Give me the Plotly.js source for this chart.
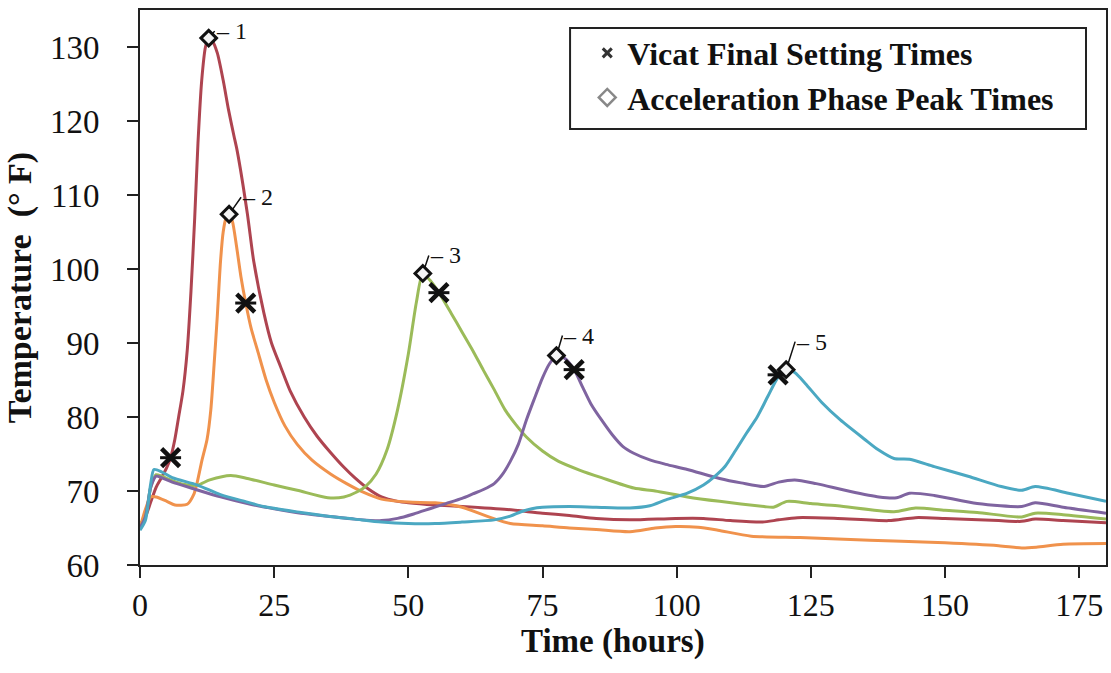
<!DOCTYPE html>
<html>
<head>
<meta charset="utf-8">
<script src="https://cdn.plot.ly/plotly-3.0.1.min.js"></script>
<style>html,body{margin:0;padding:0;background:#fff;}#chart{width:1111px;height:673px;}</style>
</head>
<body>
<div id="chart"></div>
<script>
// ---------- DATA ----------
const time1 = [0, 1, 2, 3, 4, 5, 5.7, 6.5, 7.2, 8, 8.8, 9.5, 10.2, 10.8, 11.5, 12.2, 12.8, 13.5, 14.4, 15.5, 16.5, 17.5, 18.1, 20, 21.2, 23.1, 24.5, 26.2, 28, 30.6, 33, 35.5, 38, 40, 42.5, 45, 48, 50, 55, 60, 68.4, 75, 80, 85, 91.3, 99.8, 105, 110, 116, 119, 122.5, 130, 139.5, 144.5, 150, 160, 164.3, 166.8, 172, 180];
const temp1 = [65.5, 66.5, 68.5, 70.5, 71.8, 73.2, 74.5, 77, 80, 83.5, 89, 97, 107, 117, 125.5, 130, 131.2, 130.8, 129.2, 125.5, 121.5, 118, 116, 107.5, 101, 94, 90, 86.8, 83.5, 80, 77.4, 75.2, 73.2, 71.8, 70.3, 69.2, 68.6, 68.4, 68.1, 67.9, 67.5, 67, 66.7, 66.3, 66.1, 66.3, 66.3, 66, 65.8, 66.1, 66.4, 66.3, 66, 66.4, 66.3, 66, 65.9, 66.2, 66, 65.7];

const time2 = [0, 1, 2, 3, 5, 6.5, 8.8, 10, 10.7, 11.5, 12.5, 13.2, 13.8, 14.4, 15, 15.5, 16, 16.6, 17.2, 18, 18.8, 19.7, 20.7, 21.9, 23.5, 25, 27, 29.3, 32, 35.5, 38.5, 41.7, 45, 50, 55, 60, 65, 69, 75, 80, 85, 91.3, 96, 99.8, 104, 107.7, 113.9, 123, 130, 141.9, 150, 160, 164.3, 167, 172, 180];
const temp2 = [65, 67.5, 69.2, 69.2, 68.6, 68.1, 68.2, 69.5, 71.3, 74, 77, 81, 87, 93.6, 101, 105, 106.8, 107.4, 106.5, 103, 99, 95.4, 92, 89, 85, 82, 78.8, 76.3, 74.2, 72.3, 71, 69.8, 68.9, 68.5, 68.4, 67.8, 66.5, 65.6, 65.3, 65, 64.8, 64.5, 65, 65.2, 65.1, 64.7, 63.9, 63.7, 63.5, 63.2, 63, 62.6, 62.3, 62.4, 62.8, 62.9];

const time3 = [0, 1, 2, 3, 4, 6, 8, 10.7, 13, 16.9, 20, 25, 29.3, 35, 38, 40.5, 42, 44, 46, 48, 50, 51.5, 52.7, 54, 55.7, 58, 60, 62, 64, 66, 68, 70, 72, 75, 78, 82, 86, 92, 96, 102, 108, 116.3, 118, 120.6, 125, 130, 140.5, 144.5, 150, 156, 164.3, 166.8, 172, 180];
const temp3 = [65, 66.5, 70.5, 72.2, 72, 71.4, 70.9, 70.8, 71.5, 72.1, 71.7, 70.8, 70.1, 69.1, 69.2, 69.9, 70.6, 72.3, 75.5, 81, 88.5, 95.5, 99.4, 98.5, 96.8, 94, 91.5, 89, 86.3, 83.7, 81, 79, 77.3, 75.4, 74, 72.8, 71.8, 70.4, 70, 69.2, 68.6, 67.9, 67.8, 68.6, 68.3, 68, 67.2, 67.7, 67.4, 67.1, 66.5, 67, 66.8, 66.2];

const time4 = [0, 1, 2, 3, 4, 6, 10, 15, 20, 25, 30, 35, 40, 45, 48, 51, 54, 57, 60, 62, 64, 66, 67.5, 69, 70.5, 72, 73.5, 75, 76.3, 77.6, 79, 80.9, 82.5, 84, 86, 88, 90, 92, 95, 98, 102, 108, 112, 116.3, 119, 122, 126, 132, 137.7, 141, 143.4, 148, 156, 164.3, 166.8, 172, 180];
const temp4 = [65, 66.5, 70.5, 72, 71.8, 71.2, 70.3, 69.2, 68.3, 67.6, 67, 66.6, 66.2, 66, 66.3, 66.9, 67.6, 68.3, 69, 69.6, 70.2, 71, 72.2, 74, 76.3, 79.6, 82.5, 85.3, 87.2, 88.3, 88, 86.4, 84, 81.8, 79.6, 77.6, 76, 75.1, 74.2, 73.6, 72.9, 71.7, 71.1, 70.6, 71.2, 71.5, 71, 70, 69.2, 69.1, 69.7, 69.4, 68.3, 67.9, 68.4, 67.8, 67];

const time5 = [0, 1, 2, 2.6, 4, 6, 10.7, 15, 20, 23, 30, 35, 40, 45, 50, 55, 60, 66, 69, 71, 73, 75, 80, 85, 91.3, 95, 98, 102, 105, 107, 109, 111, 113, 115, 117, 119, 120.4, 122, 124, 127, 130.5, 135, 137.5, 140.5, 143.4, 148, 154.3, 160.5, 164.3, 166.8, 173, 180];
const temp5 = [64.7, 66, 71, 72.9, 72.6, 71.8, 70.8, 69.5, 68.5, 67.9, 67.1, 66.6, 66.2, 65.8, 65.6, 65.6, 65.8, 66.1, 66.6, 67.2, 67.6, 67.8, 67.9, 67.8, 67.7, 68, 68.8, 69.7, 70.8, 71.9, 73.3, 75.5, 77.8, 80, 82.8, 85.5, 86.4, 86, 84.5, 82, 79.6, 77, 75.6, 74.4, 74.3, 73.3, 72, 70.6, 70.1, 70.6, 69.7, 68.6];

const peakTime  = [12.8, 16.6, 52.7, 77.6, 120.4];
const peakTemp  = [131.2, 107.4, 99.4, 88.3, 86.4];
const peakLabel = ['1', '2', '3', '4', '5'];

const vicatTime = [5.7, 19.7, 55.7, 80.9, 118.9];
const vicatTemp = [74.5, 95.4, 96.8, 86.4, 85.7];

const xTicks = [0, 25, 50, 75, 100, 125, 150, 175];
const yTicks = [60, 70, 80, 90, 100, 110, 120, 130];

// ---------- STYLE ----------
const serif = "'Liberation Serif', 'Times New Roman', serif";
const seriesColors = ['#AE4450', '#F0924C', '#9BBB59', '#7F64A0', '#4BA8C2'];
const seriesX = [time1, time2, time3, time4, time5];
const seriesY = [temp1, temp2, temp3, temp4, temp5];
const labelOffsets = [[6, -7], [12, -17], [6, -18], [6, -20], [9, -28]];

const traces = [];
for (let i = 0; i < 5; i++) {
  traces.push({
    x: seriesX[i], y: seriesY[i], type: 'scatter', mode: 'lines',
    line: {color: seriesColors[i], width: 3, shape: 'spline', smoothing: 0.7},
    showlegend: false, hoverinfo: 'skip'
  });
}
// Vicat markers (X with a horizontal bar)
traces.push({
  x: vicatTime, y: vicatTemp, type: 'scatter', mode: 'markers',
  marker: {symbol: 'x-thin-open', size: 18, color: '#111', line: {color: '#111', width: 4.5}},
  showlegend: false
});
traces.push({
  x: vicatTime, y: vicatTemp, type: 'scatter', mode: 'markers',
  marker: {symbol: 'line-ew-open', size: 15, color: '#111', line: {color: '#111', width: 3}},
  showlegend: false
});
// Peak markers
traces.push({
  x: peakTime, y: peakTemp, type: 'scatter', mode: 'markers',
  marker: {symbol: 'diamond', size: 12, color: '#f4f4f4', line: {color: '#111', width: 3}},
  showlegend: false
});
// legend entries
traces.push({
  x: [null], y: [null], type: 'scatter', mode: 'markers',
  name: 'Vicat Final Setting Times',
  marker: {symbol: 'x-thin-open', size: 9, color: '#333', line: {color: '#333', width: 3}}
});
traces.push({
  x: [null], y: [null], type: 'scatter', mode: 'markers',
  name: 'Acceleration Phase Peak Times',
  marker: {symbol: 'diamond-open', size: 13, color: '#888', line: {color: '#888', width: 2.5}}
});

const annotations = peakTime.map((t, i) => ({
  x: t, y: peakTemp[i], xref: 'x', yref: 'y',
  text: '\u2013 ' + peakLabel[i],
  showarrow: true, arrowhead: 0, arrowwidth: 1.5, arrowcolor: '#111',
  ax: labelOffsets[i][0], ay: labelOffsets[i][1],
  xanchor: 'left', yanchor: 'middle', standoff: 6, borderpad: 0,
  font: {family: serif, size: 24, color: '#111'}
}));
// x axis title, placed close under the tick labels as in the original
annotations.push({
  xref: 'paper', yref: 'paper', x: 0.49, y: -0.138,
  xanchor: 'center', yanchor: 'middle', showarrow: false,
  text: 'Time (hours)',
  font: {family: serif, size: 33, weight: 'bold', color: '#111'}
});

const layout = {
  width: 1111, height: 673,
  margin: {l: 140, r: 5, t: 10, b: 108},
  paper_bgcolor: '#fff', plot_bgcolor: '#fff',
  font: {family: serif, color: '#111'},
  xaxis: {
    range: [0, 180], tickvals: xTicks, ticktext: xTicks.map(String),
    showgrid: false, zeroline: false,
    showline: true, mirror: true, linecolor: '#222', linewidth: 2,
    ticks: 'outside', ticklen: 11, tickwidth: 2, tickcolor: '#222',
    ticklabelstandoff: 0,
    tickfont: {family: serif, size: 32, color: '#111'}
  },
  yaxis: {
    range: [60, 135], tickvals: yTicks, ticktext: yTicks.map(String),
    showgrid: false, zeroline: false,
    showline: true, mirror: true, linecolor: '#222', linewidth: 2,
    ticks: 'outside', ticklen: 11, tickwidth: 2, tickcolor: '#222',
    ticklabelstandoff: 21,
    tickfont: {family: serif, size: 33, color: '#111'},
    title: {text: 'Temperature  (\u00b0 F)', standoff: 8, font: {family: serif, size: 34, weight: 'bold', color: '#111'}}
  },
  showlegend: true,
  legend: {
    x: 0.463, y: 0.972, xanchor: 'left', yanchor: 'top',
    bgcolor: 'rgba(0,0,0,0)', borderwidth: 0,
    font: {family: serif, size: 32, weight: 'bold', color: '#111'},
    tracegroupgap: 0
  },
  shapes: [{
    type: 'rect', xref: 'paper', yref: 'paper',
    x0: 0.4452, x1: 0.9793, y0: 0.7856, y1: 0.9676,
    line: {color: '#222', width: 2}, fillcolor: '#fff', layer: 'below'
  }],
  annotations: annotations
};

Plotly.newPlot('chart', traces, layout, {displayModeBar: false, staticPlot: true});
</script>
</body>
</html>
